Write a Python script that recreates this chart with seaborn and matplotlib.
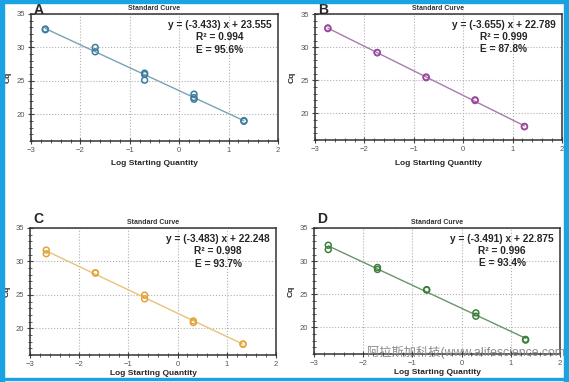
import numpy as np
import pandas as pd
import seaborn as sns
import matplotlib.pyplot as plt
from matplotlib.patches import Rectangle
from matplotlib.ticker import MultipleLocator

# log starting quantity / Cq
a_x = [-2.71, -2.71, -1.70, -1.70, -0.70, -0.70, -0.70, 0.30, 0.30, 0.30, 1.31, 1.31]
a_cq = [32.65, 32.75, 30.0, 29.35, 26.15, 25.95, 25.1, 23.0, 22.5, 22.25, 19.05, 18.95]
b_x = [-2.74, -2.74, -1.74, -1.74, -0.75, -0.75, 0.24, 0.24, 1.24, 1.24]
b_cq = [32.8, 32.9, 29.15, 29.2, 25.5, 25.4, 22.05, 21.95, 18.05, 18.0]
c_x = [-2.67, -2.67, -1.67, -1.67, -0.67, -0.67, 0.32, 0.32, 1.33, 1.33]
c_cq = [31.7, 31.15, 28.3, 28.25, 24.95, 24.4, 21.1, 20.85, 17.65, 17.6]
d_x = [-2.71, -2.71, -1.71, -1.71, -0.71, -0.71, 0.29, 0.29, 1.30, 1.30]
d_cq = [32.4, 31.75, 29.05, 28.75, 25.7, 25.65, 22.2, 21.7, 18.2, 18.1]

labels = ["A", "B", "C", "D"]
equations = [
    "y = (-3.433) x + 23.555\nR² = 0.994\nE = 95.6%",
    "y = (-3.655) x + 22.789\nR² = 0.999\nE = 87.8%",
    "y = (-3.483) x + 22.248\nR² = 0.998\nE = 93.7%",
    "y = (-3.491) x + 22.875\nR² = 0.996\nE = 93.4%",
]
dot_cols = ["#3f7d9c", "#9a4aa0", "#e3a43a", "#3c7f3c"]
line_cols = ["#7aa2b4", "#a77aae", "#e8c27a", "#6a946a"]

sns.set_theme(style="white")
plt.rcParams["font.family"] = ["Liberation Sans", "DejaVu Sans"]

W, H = 569, 382
fig = plt.figure(figsize=(W / 100, H / 100), dpi=100)

# axes boxes in pixels: left, top, right, bottom
boxes = [(31, 14, 278, 141), (315, 14, 562, 140), (30, 228, 276, 355), (314, 228, 560, 354)]
data = [(a_x, a_cq), (b_x, b_cq), (c_x, c_cq), (d_x, d_cq)]
xpads = [5, 5, 1.5, 1.5]
letter_y = [3, 3, 212, 212]

for i in range(4):
    l, t, r, b = boxes[i]
    ax = fig.add_axes([l / W, 1 - b / H, (r - l) / W, (b - t) / H])
    df = pd.DataFrame({"x": data[i][0], "cq": data[i][1]})
    sns.regplot(data=df, x="x", y="cq", scatter=False, ci=None, truncate=True,
                line_kws=dict(color=line_cols[i], lw=1.0), ax=ax)
    sns.scatterplot(data=df, x="x", y="cq", marker="o", s=18, facecolor="none",
                    edgecolor=dot_cols[i], linewidth=1.1, ax=ax, zorder=3)
    ax.set_xlim(-3, 2)
    ax.set_ylim(16, 35)
    ax.xaxis.set_major_locator(MultipleLocator(1))
    ax.xaxis.set_minor_locator(MultipleLocator(0.2))
    ax.yaxis.set_major_locator(MultipleLocator(5))
    ax.yaxis.set_minor_locator(MultipleLocator(1))
    ax.set_yticks([20, 25, 30, 35])
    ax.grid(True, which="major", ls=":", lw=0.8, color="#b0b0b0")
    ax.tick_params(which="major", direction="inout", length=4, width=0.8, color="#444444",
                   labelsize=5.5, labelcolor="#555555", pad=2, bottom=True, left=True)
    ax.tick_params(which="minor", direction="inout", length=2.5, width=0.6, color="#444444",
                   bottom=True, left=True)
    for s in ax.spines.values():
        s.set_color("#333333")
        s.set_linewidth(1.1)
    ax.set_xlabel("Log Starting Quantity", fontsize=6, fontweight="bold", labelpad=xpads[i])
    ax.set_ylabel("Cq", fontsize=6, fontweight="bold", labelpad=4)
    ax.set_title("Standard Curve", fontsize=5, fontweight="bold", color="#333333", pad=3)
    ax.text(0.765, 0.955, equations[i], transform=ax.transAxes, ha="center", va="top",
            fontsize=7.3, fontweight="bold", linespacing=1.3)
    fig.text((l + 3) / W, 1 - letter_y[i] / H, labels[i], ha="left", va="top",
             fontsize=10, fontweight="bold")

fig.text(367 / W, 1 - 352 / H, "阿拉斯加科技(www.alifescience.com)", fontsize=8.8,
         color="#8a8a8a", va="center", ha="left",
         family=["Liberation Sans", "Noto Sans CJK SC"])

# blue frame around the picture
blue = "#1aa3e3"
fig.patches.append(Rectangle((0, 0), 4 / W, 1, transform=fig.transFigure, color=blue, zorder=10))
fig.patches.append(Rectangle((0, 1 - 3 / H), 1, 3 / H, transform=fig.transFigure, color=blue, zorder=10))
fig.patches.append(Rectangle((1 - 5 / W, 0), 5 / W, 1, transform=fig.transFigure, color=blue, zorder=10))
fig.patches.append(Rectangle((0, 2 / H), 1, 2.5 / H, transform=fig.transFigure, color=blue, zorder=10))

fig.savefig("out.png", dpi=100)
